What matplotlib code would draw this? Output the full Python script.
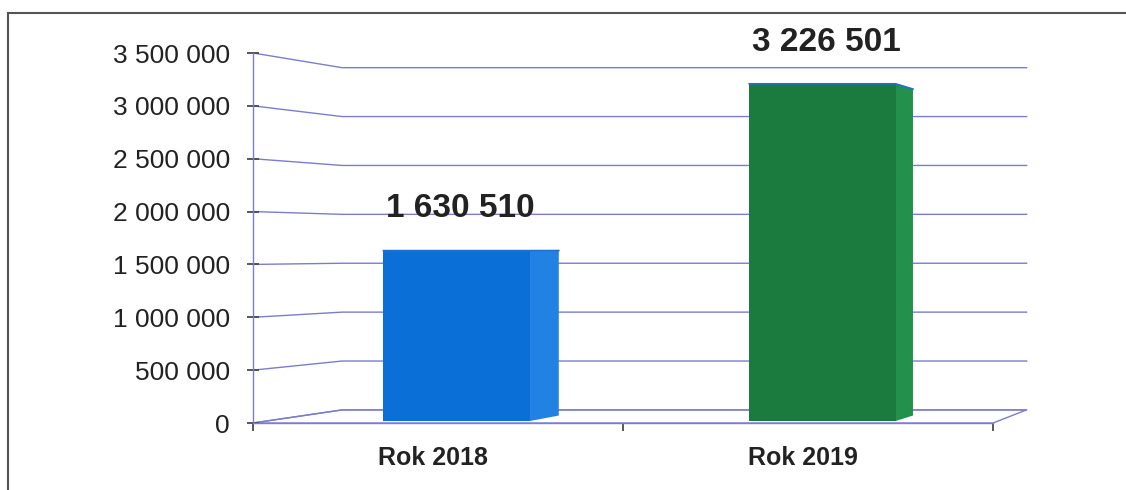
import matplotlib
matplotlib.use("Agg")
import matplotlib.pyplot as plt
from matplotlib.patches import Polygon
from matplotlib.lines import Line2D
from matplotlib.ticker import FuncFormatter

# data
categories = ["Rok 2018", "Rok 2019"]
values = [1630510, 3226501]
y_ticks = [0, 500000, 1000000, 1500000, 2000000, 2500000, 3000000, 3500000]

front_colors = ["#0a6fd6", "#1b7a3e"]
side_colors = ["#2282e4", "#23904b"]
grid_color = "#7c7cd0"

plt.rcParams["font.family"] = ["Liberation Sans", "DejaVu Sans"]


def fmt_space(v, pos=None):
    return f"{int(v):,}".replace(",", " ")


fig = plt.figure(figsize=(11.26, 4.9), dpi=100)
ax = fig.add_axes([253 / 1126, 67 / 490, 740 / 1126, 370 / 490])
ax.set_xlim(0, 2)
ax.set_ylim(0, 3500000)

# perspective: points at depth d shrink toward a vanishing point (data coords)
VP = (3.21, 1650000)
SHRINK = 0.075


def proj(x, y, d):
    s = 1 - SHRINK * d
    return (VP[0] + s * (x - VP[0]), VP[1] + s * (y - VP[1]))


# floor
floor = [proj(0, 0, 0), proj(0, 0, 1), proj(2, 0, 1), proj(2, 0, 0)]
ax.add_patch(Polygon(floor, closed=True, fill=False, ec=grid_color, lw=1,
                     clip_on=False, zorder=1))

# gridlines: left side wall + back wall
for v in y_ticks:
    pts = [proj(0, v, 0), proj(0, v, 1), proj(2, v, 1)]
    xs, ys = zip(*pts)
    ax.plot(xs, ys, color=grid_color, lw=1, clip_on=False, zorder=1)

# 3D bars
d0, d1 = 0.15, 0.57
bar_w = 0.4
for i, val in enumerate(values):
    xc = i + 0.52
    x0, x1 = xc - bar_w / 2, xc + bar_w / 2
    top = [proj(x0, val, d0), proj(x1, val, d0), proj(x1, val, d1), proj(x0, val, d1)]
    side = [proj(x1, 0, d0), proj(x1, 0, d1), proj(x1, val, d1), proj(x1, val, d0)]
    front = [proj(x0, 0, d0), proj(x1, 0, d0), proj(x1, val, d0), proj(x0, val, d0)]
    ax.add_patch(Polygon(top, closed=True, fc=side_colors[i], ec="none",
                         clip_on=False, zorder=2))
    ax.add_patch(Polygon(side, closed=True, fc=side_colors[i], ec="none",
                         clip_on=False, zorder=2))
    ax.add_patch(Polygon(front, closed=True, fc=front_colors[i], ec="none",
                         clip_on=False, zorder=3))
    # thin blue rim on top edge (as in the original export)
    ax.plot([front[3][0], front[2][0], side[2][0]],
            [front[3][1], front[2][1], side[2][1]],
            color="#1f6fd8", lw=1.2, clip_on=False, zorder=4)

    lx, ly = proj(xc, val, d0)
    ax.annotate(fmt_space(val), xy=(lx, ly), xytext=(3, 30),
                textcoords="offset points", ha="center", va="center",
                fontsize=24, fontweight="bold", color="#222222",
                annotation_clip=False, zorder=5)

    ax.annotate(categories[i], xy=(i + 0.5, 0), xytext=(-4, -25),
                textcoords="offset points", ha="center", va="center",
                fontsize=18, fontweight="bold", color="#222222",
                annotation_clip=False)

# axes styling
for side_name in ["top", "right"]:
    ax.spines[side_name].set_visible(False)
ax.spines["left"].set_color(grid_color)
ax.spines["bottom"].set_color(grid_color)
ax.spines["left"].set_linewidth(1)
ax.spines["bottom"].set_linewidth(1)
ax.set_facecolor("none")

ax.set_yticks(y_ticks)
ax.yaxis.set_major_formatter(FuncFormatter(fmt_space))
ax.tick_params(axis="y", direction="inout", length=9, width=1.3,
               color="#4a4a4a", pad=12, labelsize=19, labelcolor="#222222")
ax.set_xticks([0, 1, 2])
ax.set_xticklabels([])
ax.tick_params(axis="x", direction="out", length=6, width=1.3, color="#4a4a4a")

# scanned page frame
fig.add_artist(Line2D([8 / 1126, 8 / 1126], [0, 1 - 13 / 490],
                      transform=fig.transFigure, color="#555555", lw=1.5))
fig.add_artist(Line2D([8 / 1126, 1], [1 - 13 / 490, 1 - 13 / 490],
                      transform=fig.transFigure, color="#555555", lw=1.5))

fig.savefig("out.png", dpi=100)
